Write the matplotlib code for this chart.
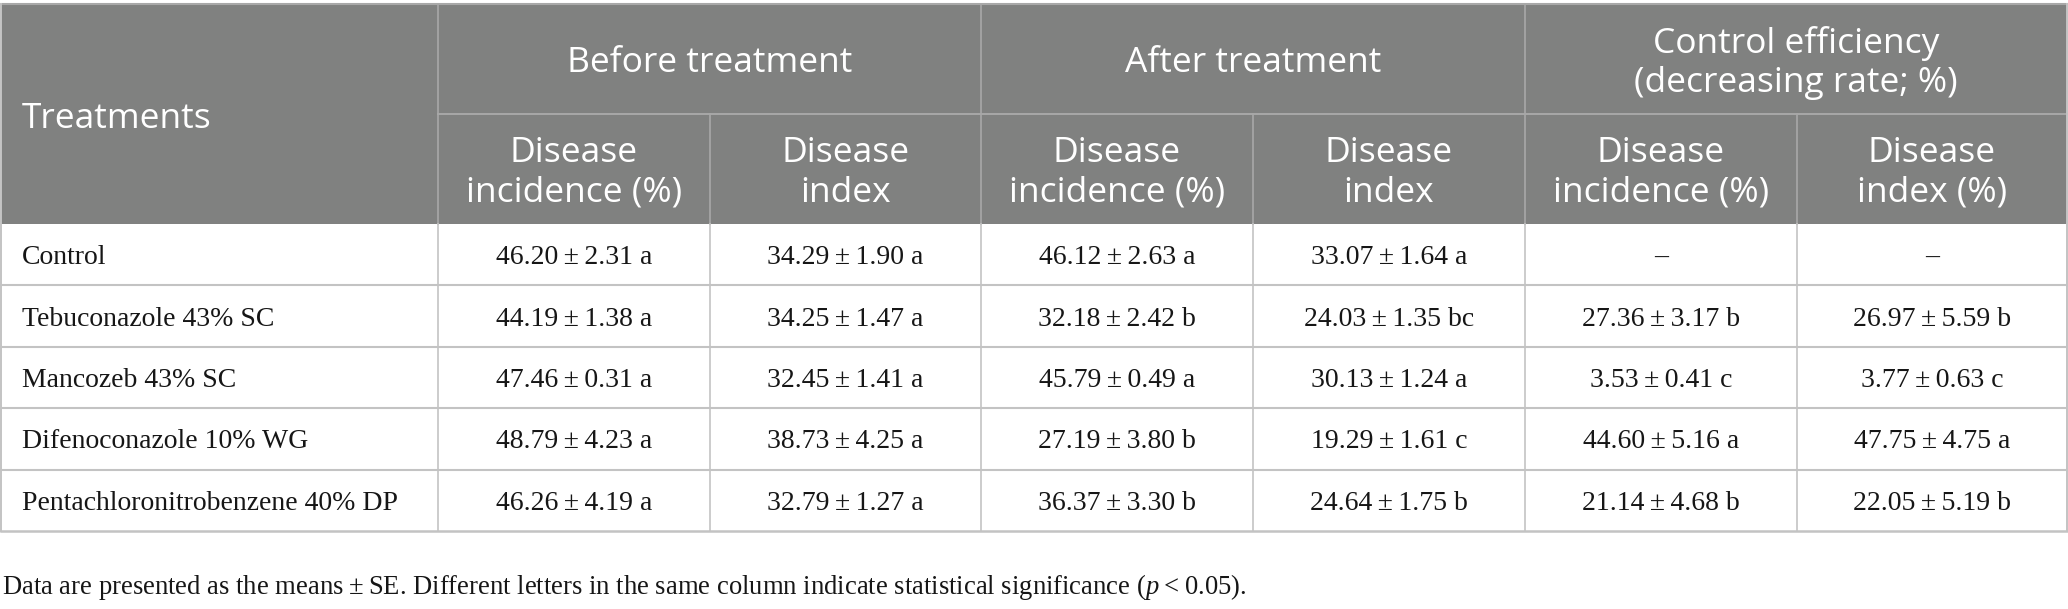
import matplotlib
matplotlib.use("Agg")
import matplotlib.pyplot as plt
from matplotlib.patches import Rectangle

# ---------------- data ----------------
treatments = ["Control", "Tebuconazole 43% SC", "Mancozeb 43% SC",
              "Difenoconazole 10% WG", "Pentachloronitrobenzene 40% DP"]

group_headers = ["Before treatment", "After treatment",
                 "Control efficiency\n(decreasing rate; %)"]
sub_headers = ["Disease\nincidence (%)", "Disease\nindex",
               "Disease\nincidence (%)", "Disease\nindex",
               "Disease\nincidence (%)", "Disease\nindex (%)"]

before_inc_mean = [46.20, 44.19, 47.46, 48.79, 46.26]
before_inc_se = [2.31, 1.38, 0.31, 4.23, 4.19]
before_inc_letter = ["a", "a", "a", "a", "a"]

before_idx_mean = [34.29, 34.25, 32.45, 38.73, 32.79]
before_idx_se = [1.90, 1.47, 1.41, 4.25, 1.27]
before_idx_letter = ["a", "a", "a", "a", "a"]

after_inc_mean = [46.12, 32.18, 45.79, 27.19, 36.37]
after_inc_se = [2.63, 2.42, 0.49, 3.80, 3.30]
after_inc_letter = ["a", "b", "a", "b", "b"]

after_idx_mean = [33.07, 24.03, 30.13, 19.29, 24.64]
after_idx_se = [1.64, 1.35, 1.24, 1.61, 1.75]
after_idx_letter = ["a", "bc", "a", "c", "b"]

eff_inc_mean = [None, 27.36, 3.53, 44.60, 21.14]
eff_inc_se = [None, 3.17, 0.41, 5.16, 4.68]
eff_inc_letter = [None, "b", "c", "a", "b"]

eff_idx_mean = [None, 26.97, 3.77, 47.75, 22.05]
eff_idx_se = [None, 5.59, 0.63, 4.75, 5.19]
eff_idx_letter = [None, "b", "c", "a", "b"]

footnote = ("Data are presented as the means\u2009\u00b1\u2009SE. Different letters in the same "
            "column indicate statistical significance ($p$\u2009<\u20090.05).")

columns = [
    (before_inc_mean, before_inc_se, before_inc_letter),
    (before_idx_mean, before_idx_se, before_idx_letter),
    (after_inc_mean, after_inc_se, after_inc_letter),
    (after_idx_mean, after_idx_se, after_idx_letter),
    (eff_inc_mean, eff_inc_se, eff_inc_letter),
    (eff_idx_mean, eff_idx_se, eff_idx_letter),
]

# ---------------- style ----------------
plt.rcParams["mathtext.fontset"] = "custom"
plt.rcParams["mathtext.rm"] = "Liberation Serif"
plt.rcParams["mathtext.it"] = "Liberation Serif:italic"

W, H = 2068, 609
fig = plt.figure(figsize=(W / 100, H / 100), dpi=100)
ax = fig.add_axes([0, 0, 1, 1])
ax.set_xlim(0, W)
ax.set_ylim(H, 0)
ax.axis("off")

HEAD_BG = "#808180"
HEAD_LINE = "#a8a8a8"
BODY_LINE = "#c3c3c3"
TEXT = "#161616"
HEAD_FONT = ["Open Sans", "DejaVu Sans"]
BODY_FONT = ["Liberation Serif", "DejaVu Serif"]

col_x = [0.5, 438, 710, 981, 1253, 1525, 1797, 2067]
y_top, y_h1, y_h2 = 4, 114, 224
row_h = 61.4
row_y = [y_h2 + i * row_h for i in range(len(treatments) + 1)]
y_bot = row_y[-1]

# header background
ax.add_patch(Rectangle((col_x[0], y_top), col_x[-1] - col_x[0], y_h2 - y_top,
                       facecolor=HEAD_BG, edgecolor="none", zorder=1))

# header lines
ax.plot([col_x[1], col_x[-1]], [y_h1, y_h1], color=HEAD_LINE, lw=1.4, zorder=2)
for i, x in enumerate(col_x[1:-1], start=1):
    y0 = y_top if i in (1, 3, 5) else y_h1
    ax.plot([x, x], [y0, y_h2], color=HEAD_LINE, lw=1.2, zorder=2)

# body lines
for y in row_y[1:-1]:
    ax.plot([col_x[0], col_x[-1]], [y, y], color=BODY_LINE, lw=1.5, zorder=2)
for x in col_x[1:-1]:
    ax.plot([x, x], [y_h2, y_bot], color=BODY_LINE, lw=1.2, zorder=2)

# outer border
ax.plot([col_x[0], col_x[-1]], [y_top, y_top], color=HEAD_LINE, lw=1.5, zorder=3)
ax.plot([col_x[0], col_x[-1]], [y_bot, y_bot], color=BODY_LINE, lw=1.8, zorder=3)
ax.plot([col_x[0], col_x[0]], [y_top, y_bot], color=BODY_LINE, lw=1.4, zorder=3)
ax.plot([col_x[-1], col_x[-1]], [y_top, y_bot], color=BODY_LINE, lw=1.4, zorder=3)

# header text
hfs = 25.5
ax.text(22, (y_top + y_h2) / 2 + 5, "Treatments", color="white", fontsize=hfs,
        family=HEAD_FONT, ha="left", va="center", zorder=4)
for g, label in enumerate(group_headers):
    xc = (col_x[1 + 2 * g] + col_x[3 + 2 * g]) / 2
    ax.text(xc, (y_top + y_h1) / 2 + 4, label, color="white", fontsize=hfs,
            family=HEAD_FONT, ha="center", va="center", linespacing=1.17, zorder=4)
for c, label in enumerate(sub_headers):
    xc = (col_x[1 + c] + col_x[2 + c]) / 2
    ax.text(xc, (y_h1 + y_h2) / 2 + 4, label, color="white", fontsize=hfs,
            family=HEAD_FONT, ha="center", va="center", linespacing=1.2, zorder=4)

# body text
bfs = 20
for r, name in enumerate(treatments):
    yc = (row_y[r] + row_y[r + 1]) / 2 + 3
    ax.text(22, yc, name, color=TEXT, fontsize=bfs, family=BODY_FONT,
            ha="left", va="center", zorder=4)
    for c, (means, ses, letters) in enumerate(columns):
        xc = (col_x[1 + c] + col_x[2 + c]) / 2
        if means[r] is None:
            s = "\u2013"
        else:
            s = f"{means[r]:.2f}\u2009\u00b1\u2009{ses[r]:.2f} {letters[r]}"
        ax.text(xc, yc, s, color=TEXT, fontsize=bfs, family=BODY_FONT,
                ha="center", va="center", zorder=4)

# footnote
ax.text(2, 594, footnote, color=TEXT, fontsize=19.2, family=BODY_FONT,
        ha="left", va="baseline", zorder=4)

fig.savefig("out.png", dpi=100, facecolor="white")
